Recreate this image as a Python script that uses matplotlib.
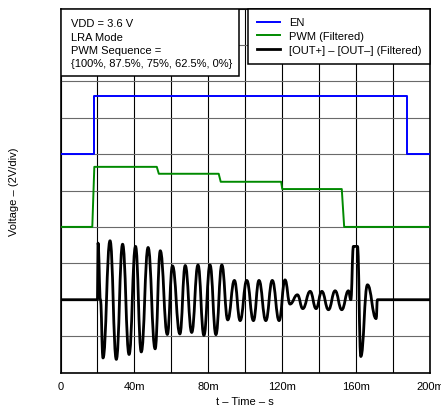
import matplotlib
matplotlib.use("Agg")
import matplotlib.pyplot as plt
from matplotlib.patches import Rectangle, PathPatch
from matplotlib.path import Path

plt.rcParams["font.family"] = ["Liberation Sans", "DejaVu Sans"]

# time in ms, values in volts (each channel drawn on its own baseline)
en_t = [0, 18.3, 18.3, 187.4, 187.4, 200]
en_v = [0, 0, 3.2, 3.2, 0, 0]

pwm_t = [0, 17.2, 18.3, 52.1, 53.2, 85.6, 86.7, 119.4, 120.0, 152.2, 153.5, 200]
pwm_v = [0, 0, 3.3, 3.3, 2.92, 2.92, 2.48, 2.48, 2.08, 2.08, 0, 0]

# peaks / troughs of the filtered output
out_t = [0, 20.0, 20.3, 21.6, 23.0, 26.8, 30.2, 33.6, 37.1, 40.6, 43.7, 47.4,
         51.2, 54.0, 57.8, 60.6, 64.6, 67.5, 71.0, 74.4, 77.6, 80.9, 84.1,
         87.3, 90.5, 94.1, 97.2, 100.8, 104.4, 107.4, 111.1, 114.6, 118.3,
         121.5, 124.2, 128.2, 131.1, 135.1, 138.3, 141.4, 145.0, 148.6,
         152.2, 155.8, 157.1, 158.5, 160.7, 162.5, 166.1, 170.8, 171.5, 200]
out_v = [0, 0, 3.11, 0, -3.20, 3.24, -3.28, 3.05, -3.01, 2.93, -2.87, 2.87,
         -2.70, 2.69, -1.91, 1.86, -1.88, 1.88, -1.80, 1.91, -1.96, 1.91, -1.92,
         1.91, -1.11, 1.06, -1.15, 1.06, -1.15, 1.06, -1.15, 1.06, -1.15,
         1.09, -0.24, 0.27, -0.49, 0.46, -0.49, 0.46, -0.55, 0.49,
         -0.55, 0.49, 0, 2.93, 2.93, -3.12, 0.82, -1.04, 0, 0]

# channel baselines on screen (volts, 2 V/div)
en_off, pwm_off, out_off = 12, 8, 4

x_ticks = [0, 40, 80, 120, 160, 200]
x_labels = ["0", "40m", "80m", "120m", "160m", "200m"]

fs = 8.0


def smooth_path(ts, vs, k=0.45):
    # cubic segments with flat tangents at each extremum, like a scope trace
    verts = [(ts[0], vs[0])]
    codes = [Path.MOVETO]
    for (t0, v0), (t1, v1) in zip(zip(ts, vs), zip(ts[1:], vs[1:])):
        dt = t1 - t0
        verts += [(t0 + k * dt, v0), (t1 - k * dt, v1), (t1, v1)]
        codes += [Path.CURVE4] * 3
    return Path(verts, codes)


fig = plt.figure(figsize=(4.41, 4.10), dpi=100)
ax = fig.add_axes([0.1372, 0.089, 0.8381, 0.8878])

out_path = smooth_path(out_t, [v + out_off for v in out_v])
ax.add_patch(PathPatch(out_path, facecolor="none", edgecolor="black", lw=2.0,
                       joinstyle="round", zorder=3))
# legend handle for the output trace
ax.plot([], [], color="black", lw=2.0, label="[OUT+] \u2013 [OUT\u2013] (Filtered)")
ax.plot(pwm_t, [v + pwm_off for v in pwm_v], color="#008a00", lw=1.4,
        zorder=4, label="PWM (Filtered)")
ax.plot(en_t, [v + en_off for v in en_v], color="#0000ff", lw=1.4,
        zorder=4, label="EN")

ax.set_xlim(0, 200)
ax.set_ylim(0, 20)
ax.set_xticks(x_ticks)
ax.set_xticklabels(x_labels, fontsize=fs)
ax.set_xticks(range(20, 200, 40), minor=True)
ax.set_yticks(range(0, 21, 2))
ax.set_yticklabels([])
ax.tick_params(which="both", length=0, pad=6)
ax.grid(axis="x", which="both", color="black", lw=0.8, zorder=0)
ax.grid(axis="y", color="#6a6a6a", lw=0.8, zorder=0)
ax.set_axisbelow(True)
for s in ax.spines.values():
    s.set_linewidth(1.2)

ax.set_xlabel("t \u2013 Time \u2013 s", fontsize=fs, labelpad=4)
ax.set_ylabel("Voltage \u2013 (2V/div)", fontsize=fs, labelpad=24)

# condition box, top left
ax.add_patch(Rectangle((0, 0.8146), 0.482, 0.1854, transform=ax.transAxes,
                       facecolor="white", edgecolor="black", lw=1.1, zorder=5))
info = ["VDD = 3.6 V", "LRA Mode", "PWM Sequence =", "{100%, 87.5%, 75%, 62.5%, 0%}"]
for i, line in enumerate(info):
    ax.text(0.0284, 0.959 - i * 0.0362, line, transform=ax.transAxes,
            fontsize=fs, va="center", ha="left", zorder=6)

handles, labels = ax.get_legend_handles_labels()
order = [2, 1, 0]
leg = ax.legend([handles[i] for i in order], [labels[i] for i in order],
                loc="upper right", fontsize=fs, frameon=True, fancybox=False,
                framealpha=1, edgecolor="black", borderaxespad=0,
                handlelength=2.1, handletextpad=0.75, labelspacing=0.35,
                borderpad=0.8)
leg.get_frame().set_linewidth(1.1)
leg.set_zorder(6)

fig.savefig("out.png", dpi=100)
